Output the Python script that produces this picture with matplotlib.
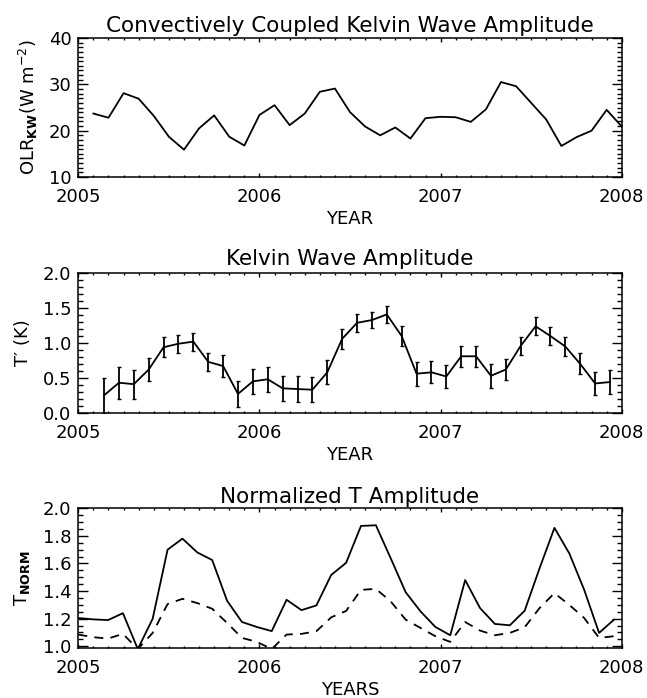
import numpy as np
import matplotlib
matplotlib.use("Agg")
import matplotlib.pyplot as plt
from matplotlib.ticker import MultipleLocator, FormatStrFormatter

# top panel: monthly OLR Kelvin wave amplitude (months after Jan 1 2005)
olr_month = np.arange(1, 37)
olr_amp = [23.7, 22.8, 28.1, 26.9, 23.2, 18.7, 15.9, 20.5, 23.3, 18.7, 16.8, 23.4,
           25.5, 21.2, 23.7, 28.4, 29.1, 24.0, 20.9, 19.0, 20.7, 18.3, 22.7, 23.0,
           22.9, 21.9, 24.6, 30.5, 29.6, 26.0, 22.4, 16.7, 18.6, 20.0, 24.5, 20.9]

# middle panel: temperature amplitude T' (K) with error bars, days after Jan 1 2005
amp_day = 52 + 30 * np.arange(35)
t_amp = [0.25, 0.43, 0.41, 0.62, 0.94, 0.99, 1.02, 0.73, 0.67, 0.27, 0.45,
         0.48, 0.35, 0.34, 0.33, 0.58, 1.06, 1.29, 1.33, 1.41, 1.10, 0.56, 0.58,
         0.52, 0.81, 0.81, 0.53, 0.62, 0.96, 1.24, 1.10, 0.95, 0.70, 0.42, 0.44]
t_err = [0.25, 0.23, 0.21, 0.17, 0.14, 0.13, 0.13, 0.13, 0.16, 0.19, 0.18,
         0.18, 0.18, 0.18, 0.18, 0.17, 0.14, 0.13, 0.12, 0.12, 0.14, 0.17, 0.16,
         0.16, 0.15, 0.15, 0.17, 0.15, 0.13, 0.13, 0.13, 0.13, 0.15, 0.17, 0.17]

# bottom panel: normalized amplitude, days after Jan 1 2005
norm_day = 30 * np.arange(37)
norm_solid = [1.205, 1.195, 1.19, 1.24, 0.98, 1.20, 1.70, 1.78, 1.68, 1.625, 1.33, 1.176,
              1.14, 1.11, 1.337, 1.262, 1.296, 1.517, 1.605, 1.872, 1.877, 1.637, 1.392,
              1.253, 1.14, 1.08, 1.48, 1.277, 1.162, 1.152, 1.258, 1.565, 1.858, 1.673,
              1.409, 1.097, 1.193]
norm_dash = [1.085, 1.066, 1.056, 1.09, 0.98, 1.097, 1.306, 1.344, 1.313, 1.272, 1.169,
             1.061, 1.032, 0.98, 1.085, 1.09, 1.109, 1.21, 1.256, 1.409, 1.416, 1.325,
             1.193, 1.133, 1.073, 1.032, 1.176, 1.114, 1.08, 1.097, 1.138, 1.277, 1.385,
             1.30, 1.205, 1.061, 1.073]

years = [2005, 2006, 2007, 2008]

plt.rcParams['font.family'] = ['DejaVu Sans']
plt.rcParams['mathtext.fontset'] = 'dejavusans'


def style_axis(ax, ymajor, yminor, ylim, fmt):
    ax.set_xlim(2005, 2008)
    ax.set_ylim(*ylim)
    ax.set_xticks(years)
    ax.xaxis.set_minor_locator(MultipleLocator(1 / 12))
    ax.yaxis.set_major_locator(MultipleLocator(ymajor))
    ax.yaxis.set_minor_locator(MultipleLocator(yminor))
    ax.yaxis.set_major_formatter(FormatStrFormatter(fmt))
    ax.tick_params(which='both', direction='in', top=True, right=True,
                   width=1.0, labelsize=13)
    ax.tick_params(axis='y', which='major', length=7, pad=5)
    ax.tick_params(axis='y', which='minor', length=3.5)
    ax.tick_params(axis='x', which='major', length=3, pad=8)
    ax.tick_params(axis='x', which='minor', length=1.3)
    for s in ax.spines.values():
        s.set_linewidth(1.1)


fig = plt.figure(figsize=(6.47, 6.98), dpi=100)
ax1 = fig.add_axes([0.121, 0.7464, 0.840, 0.1991])
ax2 = fig.add_axes([0.121, 0.4087, 0.840, 0.1997])
ax3 = fig.add_axes([0.121, 0.0721, 0.840, 0.1997])

x1 = 2005 + olr_month / 12
ax1.plot(x1, olr_amp, color='black', lw=1.3)
style_axis(ax1, 10, 1, (10, 40), '%d')
ax1.set_title('Convectively Coupled Kelvin Wave Amplitude', fontsize=15.5, pad=4)
ax1.set_xlabel('YEAR', fontsize=13, labelpad=3)
ax1.set_ylabel(r'OLR$_{\mathbf{KW}}$(W m$^{-2}$)', fontsize=13, labelpad=6)

x2 = 2005 + amp_day / 365.25
ax2.errorbar(x2, t_amp, yerr=t_err, color='black', lw=1.3, elinewidth=1.3,
             capsize=1.5, capthick=1.0)
style_axis(ax2, 0.5, 0.1, (0, 2), '%.1f')
ax2.set_title('Kelvin Wave Amplitude', fontsize=15.5, pad=6)
ax2.set_xlabel('YEAR', fontsize=13, labelpad=3)
ax2.set_ylabel('T\u2032 (K)', fontsize=13, labelpad=8)

x3 = 2005 + norm_day / 365.25
ax3.plot(x3, norm_solid, color='black', lw=1.3)
ax3.plot(x3, norm_dash, color='black', lw=1.3, dashes=(5, 4))
style_axis(ax3, 0.2, 0.05, (0.99, 2.0), '%.1f')
ax3.set_title('Normalized T Amplitude', fontsize=15.5, pad=4)
ax3.set_xlabel('YEARS', fontsize=13, labelpad=3)
ax3.set_ylabel(r'T$_{\mathbf{NORM}}$', fontsize=13, labelpad=8)

fig.savefig('out.png', dpi=100)
